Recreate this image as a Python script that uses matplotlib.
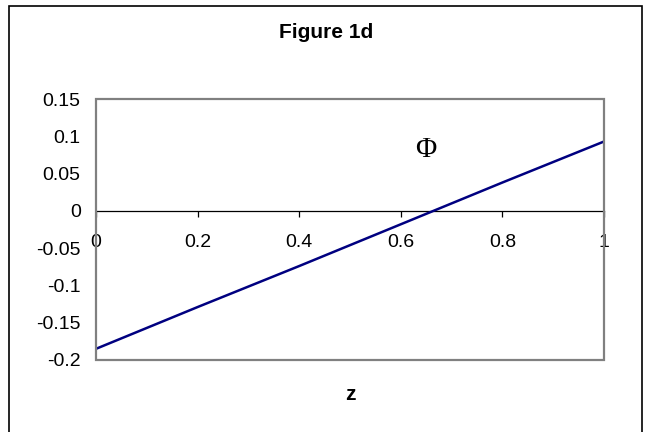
import matplotlib
matplotlib.use("Agg")
import matplotlib.pyplot as plt
from matplotlib.patches import Rectangle

# Data
z_values = [0.0, 0.2, 0.4, 0.6, 0.8, 1.0]
phi_values = [-0.185, -0.129, -0.074, -0.018, 0.038, 0.093]
x_ticks = [0, 0.2, 0.4, 0.6, 0.8, 1]
x_tick_labels = ["0", "0.2", "0.4", "0.6", "0.8", "1"]
y_ticks = [0.15, 0.1, 0.05, 0, -0.05, -0.1, -0.15, -0.2]
y_tick_labels = ["0.15", "0.1", "0.05", "0", "-0.05", "-0.1", "-0.15", "-0.2"]
title_text = "Figure 1d"
x_label = "z"
series_label = "\u03A6"

plt.rcParams['font.family'] = ['Liberation Sans', 'DejaVu Sans']

fig = plt.figure(figsize=(6.5, 4.32), dpi=100)
fig.patch.set_facecolor("white")

W, H = 650, 432
ax = fig.add_axes([96 / W, 1 - 360 / H, (604 - 96) / W, (360 - 99) / H])

ax.plot(z_values, phi_values, color="#000080", lw=1.8, solid_capstyle="butt", zorder=3)
ax.set_xlim(0, 1)
ax.set_ylim(-0.2, 0.15)

# spines: hide all except bottom, moved to y=0
for s in ["top", "right", "left"]:
    ax.spines[s].set_visible(False)
ax.spines["bottom"].set_position(("data", 0))
ax.spines["bottom"].set_color("black")
ax.spines["bottom"].set_linewidth(0.9)

# gray plot frame
ax.add_patch(Rectangle((0, 0), 1, 1, transform=ax.transAxes, fill=False,
                       edgecolor="#808080", lw=1.6, clip_on=False, zorder=4))

ax.set_xticks(x_ticks)
ax.set_xticklabels(x_tick_labels)
ax.set_yticks(y_ticks)
ax.set_yticklabels(y_tick_labels)
ax.tick_params(axis="x", direction="out", length=4, width=0.9, color="black",
               labelsize=14, pad=13)
ax.tick_params(axis="y", length=0, labelsize=14, pad=11)

ax.text(0.65, 0.082, series_label, family=["Liberation Serif", "DejaVu Serif"],
        fontsize=21, ha="center", va="center")

fig.text(326 / W, 1 - 33 / H, title_text, fontsize=15, fontweight="bold",
         ha="center", va="center")
fig.text(350 / W, 1 - 395 / H, x_label, fontsize=15, fontweight="bold",
         ha="center", va="center")

# outer chart border (bottom edge lies below the image)
fig.add_artist(Rectangle((9 / W, -0.05), (642 - 9) / W, 1.05 - 6 / H,
                         transform=fig.transFigure, fill=False,
                         edgecolor="black", lw=1.2, clip_on=False))

fig.savefig("out.png", dpi=100, facecolor="white")
